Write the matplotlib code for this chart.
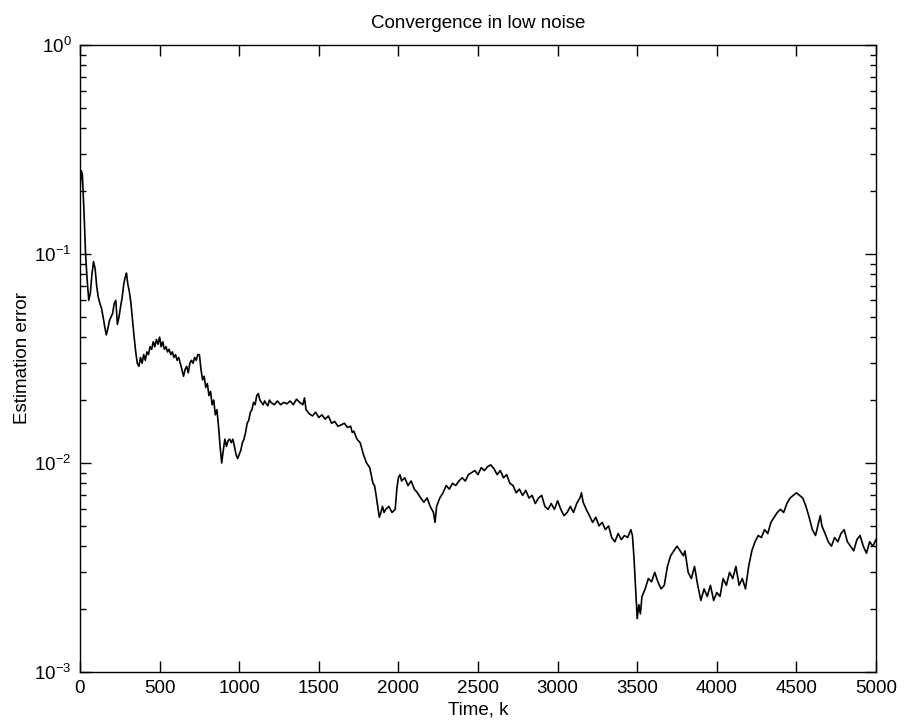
import matplotlib.pyplot as plt
import numpy as np

plt.rcParams['font.family'] = ['Liberation Sans', 'DejaVu Sans']
plt.rcParams['mathtext.fontset'] = 'custom'
plt.rcParams['mathtext.rm'] = 'Liberation Sans'
plt.rcParams['mathtext.it'] = 'Liberation Sans'

# estimation error vs. time step k
time_k = [
    0, 8, 15, 25, 35, 45, 55, 65, 75, 85, 95, 105, 115, 125, 135, 145, 155, 165, 175, 185,
    195, 205, 215, 225, 235, 245, 255, 265, 275, 285, 292, 300, 310, 320, 330, 340, 350, 360, 370, 380,
    390, 400, 410, 420, 430, 440, 450, 460, 470, 480, 490, 500, 510, 520, 530, 540, 550, 560, 570, 580,
    590, 600, 610, 620, 630, 640, 650, 660, 670, 680, 690, 700, 710, 720, 730, 740, 750, 760, 770, 780,
    790, 800, 810, 820, 830, 840, 850, 860, 870, 880, 890, 900, 910, 920, 930, 940, 950, 960, 970, 980,
    990, 1000, 1010, 1020, 1030, 1040, 1050, 1060, 1070, 1080, 1090, 1100, 1110, 1120, 1130, 1140, 1150, 1160, 1170, 1180,
    1190, 1200, 1220, 1240, 1260, 1280, 1300, 1320, 1340, 1360, 1380, 1400, 1410, 1420, 1440, 1460, 1480, 1500, 1520, 1540,
    1560, 1580, 1600, 1620, 1640, 1660, 1680, 1700, 1710, 1720, 1740, 1760, 1780, 1800, 1820, 1840, 1850, 1860, 1870, 1880,
    1890, 1900, 1910, 1920, 1940, 1960, 1980, 1990, 2000, 2010, 2020, 2040, 2060, 2080, 2100, 2120, 2140, 2160, 2180, 2200,
    2220, 2230, 2240, 2260, 2280, 2300, 2320, 2340, 2360, 2380, 2400, 2420, 2440, 2460, 2480, 2500, 2520, 2540, 2560, 2580,
    2600, 2620, 2640, 2660, 2680, 2700, 2720, 2740, 2760, 2780, 2800, 2820, 2840, 2860, 2880, 2900, 2920, 2940, 2960, 2980,
    3000, 3020, 3040, 3060, 3080, 3100, 3120, 3140, 3150, 3160, 3180, 3200, 3220, 3240, 3260, 3280, 3300, 3320, 3340, 3360,
    3380, 3400, 3420, 3440, 3460, 3470, 3480, 3490, 3500, 3510, 3520, 3530, 3550, 3570, 3590, 3610, 3630, 3650, 3670, 3690,
    3710, 3730, 3750, 3770, 3790, 3800, 3820, 3840, 3860, 3880, 3900, 3920, 3940, 3960, 3980, 4000, 4020, 4040, 4060, 4080,
    4100, 4120, 4140, 4160, 4180, 4200, 4220, 4240, 4260, 4280, 4300, 4320, 4340, 4360, 4380, 4400, 4420, 4440, 4460, 4480,
    4500, 4520, 4540, 4560, 4580, 4600, 4620, 4640, 4650, 4660, 4680, 4700, 4720, 4740, 4760, 4780, 4800, 4820, 4840, 4860,
    4880, 4900, 4920, 4940, 4960, 4980, 5000,
]
est_error = [
    0.20, 0.25, 0.24, 0.16, 0.10, 0.075, 0.06, 0.065, 0.08, 0.092, 0.085, 0.07, 0.062, 0.058, 0.055, 0.05, 0.045, 0.041, 0.044, 0.048,
    0.05, 0.052, 0.058, 0.06, 0.046, 0.05, 0.056, 0.062, 0.072, 0.078, 0.081, 0.072, 0.066, 0.058, 0.048, 0.04, 0.034, 0.03, 0.029, 0.032,
    0.03, 0.033, 0.031, 0.034, 0.033, 0.036, 0.035, 0.038, 0.036, 0.039, 0.037, 0.04, 0.036, 0.038, 0.035, 0.036, 0.034, 0.035, 0.033, 0.034,
    0.032, 0.033, 0.031, 0.032, 0.03, 0.028, 0.026, 0.028, 0.029, 0.027, 0.03, 0.031, 0.03, 0.032, 0.031, 0.033, 0.033, 0.028, 0.025, 0.026,
    0.023, 0.024, 0.021, 0.022, 0.019, 0.02, 0.017, 0.018, 0.015, 0.012, 0.010, 0.0115, 0.013, 0.012, 0.0128, 0.013, 0.0125, 0.013, 0.012, 0.011,
    0.0105, 0.011, 0.0115, 0.0125, 0.013, 0.014, 0.0155, 0.016, 0.0175, 0.018, 0.0195, 0.019, 0.021, 0.0215, 0.020, 0.0195, 0.019, 0.0198, 0.0192, 0.0188,
    0.020, 0.0195, 0.019, 0.0198, 0.019, 0.0195, 0.0192, 0.0198, 0.019, 0.0202, 0.0195, 0.019, 0.0205, 0.018, 0.0172, 0.0168, 0.0175, 0.0165, 0.017, 0.0162,
    0.0168, 0.0155, 0.0158, 0.015, 0.0152, 0.0155, 0.0148, 0.015, 0.014, 0.0142, 0.013, 0.0125, 0.011, 0.010, 0.0095, 0.008, 0.0078, 0.007, 0.0062, 0.0055,
    0.0058, 0.0062, 0.0058, 0.006, 0.0062, 0.0058, 0.006, 0.0075, 0.0085, 0.0088, 0.0082, 0.0085, 0.0078, 0.0082, 0.0075, 0.0072, 0.0068, 0.0065, 0.0068, 0.0062,
    0.0058, 0.0052, 0.0062, 0.0068, 0.0072, 0.0078, 0.0075, 0.008, 0.0078, 0.0082, 0.0085, 0.0082, 0.0088, 0.009, 0.0092, 0.0088, 0.0095, 0.0092, 0.0096, 0.0098,
    0.0094, 0.0088, 0.0092, 0.0085, 0.0088, 0.008, 0.0078, 0.0072, 0.0075, 0.007, 0.0074, 0.0068, 0.007, 0.0064, 0.0068, 0.007, 0.0062, 0.006, 0.0064, 0.006,
    0.0066, 0.006, 0.0056, 0.0058, 0.0062, 0.0058, 0.0064, 0.0068, 0.0072, 0.0065, 0.006, 0.0056, 0.0052, 0.0055, 0.005, 0.0052, 0.0048, 0.005, 0.0044, 0.0042,
    0.0046, 0.0043, 0.0045, 0.0044, 0.0048, 0.0045, 0.0035, 0.0025, 0.0018, 0.0021, 0.0019, 0.0023, 0.0025, 0.0028, 0.0027, 0.003, 0.0027, 0.0025, 0.0026, 0.0032,
    0.0036, 0.0038, 0.004, 0.0038, 0.0036, 0.0038, 0.003, 0.0028, 0.0032, 0.0026, 0.0022, 0.0025, 0.0023, 0.0026, 0.0022, 0.0024, 0.0023, 0.0028, 0.0026, 0.003,
    0.0028, 0.0032, 0.0026, 0.0028, 0.0025, 0.0032, 0.0038, 0.0042, 0.0045, 0.0044, 0.0048, 0.0046, 0.0052, 0.0055, 0.0058, 0.006, 0.0058, 0.0064, 0.0068, 0.007,
    0.0072, 0.007, 0.0068, 0.0062, 0.0055, 0.0048, 0.0045, 0.0052, 0.0056, 0.005, 0.0046, 0.0042, 0.004, 0.0044, 0.0042, 0.0046, 0.0048, 0.0042, 0.004, 0.0038,
    0.0043, 0.0045, 0.004, 0.0037, 0.0042, 0.004, 0.0043,
]

fig = plt.figure(figsize=(9.06, 7.23), dpi=100)
ax = fig.add_axes([0.0883, 0.0705, 0.8786, 0.8673])

ax.semilogy(time_k, est_error, color='black', lw=1.2)

ax.set_xlim(0, 5000)
ax.set_ylim(1e-3, 1e0)
ax.set_xticks(np.arange(0, 5001, 500))
ax.tick_params(which='both', direction='in', top=True, right=True, labelsize=13.5, width=1.0)
ax.tick_params(which='major', length=8, pad=6)
ax.tick_params(which='minor', length=4)
for s in ax.spines.values():
    s.set_linewidth(1.0)

ax.set_title('Convergence in low noise', fontsize=13.5, pad=12)
ax.set_xlabel('Time, k', fontsize=13.5, labelpad=3)
ax.set_ylabel('Estimation error', fontsize=13.5, labelpad=2)

fig.savefig('out.png', dpi=100)
